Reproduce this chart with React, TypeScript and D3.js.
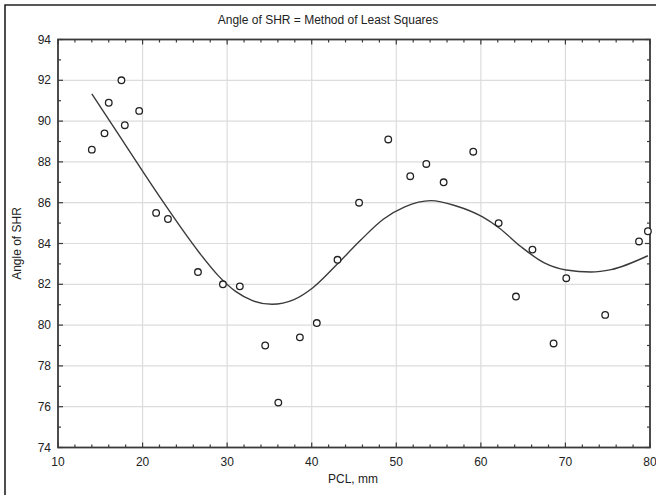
import React from "react";
import * as d3 from "d3";

const ptX = [14.0, 15.5, 16.0, 17.5, 17.9, 19.6, 21.6, 23.0, 26.55, 29.5, 31.5, 34.5, 36.05, 38.6, 40.6, 43.05, 45.6, 49.05, 51.65, 53.55, 55.6, 59.1, 62.1, 64.15, 66.1, 68.6, 70.1, 74.7, 78.7, 79.75];
const ptY = [88.6, 89.4, 90.9, 92.0, 89.8, 90.5, 85.5, 85.2, 82.6, 82.0, 81.9, 79.0, 76.2, 79.4, 80.1, 83.2, 86.0, 89.1, 87.3, 87.9, 87.0, 88.5, 85.0, 81.4, 83.7, 79.1, 82.3, 80.5, 84.1, 84.6];

const fitX = [14.0, 17.0, 20.0, 22.5, 24.5, 26.8, 29.0, 31.0, 33.0, 35.3, 37.9, 40.1, 43.0, 45.8, 48.5, 51.0, 54.1, 57.0, 60.2, 62.2, 64.75, 67.5, 70.1, 73.0, 75.4, 79.75];
const fitY = [91.33, 89.45, 87.55, 86.0, 84.8, 83.5, 82.4, 81.65, 81.2, 81.02, 81.25, 81.82, 82.98, 84.17, 85.2, 85.8, 86.1, 85.85, 85.3, 84.75, 83.84, 83.05, 82.7, 82.6, 82.72, 83.4];

const xTicks = [10, 20, 30, 40, 50, 60, 70, 80];
const yTicks = [74, 76, 78, 80, 82, 84, 86, 88, 90, 92, 94];

const title = "Angle of SHR = Method of Least Squares";
const xLabel = "PCL, mm";
const yLabel = "Angle of SHR";

export default function App() {
  const W = 656, H = 495;
  const L = 58, R = 650, T = 39.5, B = 447.5;
  const x = d3.scaleLinear().domain([10, 80]).range([L, R]);
  const y = d3.scaleLinear().domain([74, 94]).range([B, T]);
  const xMinor = d3.range(10, 80.001, 2);
  const yMinor = d3.range(74, 94.001, 1);
  const line = d3
    .line<number>()
    .x((_, i) => x(fitX[i]))
    .y((d) => y(d))
    .curve(d3.curveMonotoneX);
  const font = "'Liberation Sans', Arial, sans-serif";
  const axisCol = "#3a3a3a";
  return (
    <svg
      width={W}
      height={H}
      style={{ position: "absolute", left: 0, top: 0, background: "#fff" }}
      fontFamily={font}
    >
      <rect x={0} y={0} width={W} height={H} fill="#fff" />
      <path d={`M5,${H + 5} V5 H${W + 5}`} fill="none" stroke="#222" strokeWidth={1.6} />
      <text x={328} y={24} textAnchor="middle" fontSize={12} fill="#222">
        {title}
      </text>
      {xTicks.slice(1, -1).map((t) => (
        <line key={"gx" + t} x1={x(t)} x2={x(t)} y1={T} y2={B} stroke="#dcdcdc" strokeWidth={1.2} />
      ))}
      {yTicks.slice(1, -1).map((t) => (
        <line key={"gy" + t} x1={L} x2={R} y1={y(t)} y2={y(t)} stroke="#dcdcdc" strokeWidth={1.2} />
      ))}
      {xMinor.map((t) => {
        const major = Math.abs(t % 10) < 1e-6;
        const len = major ? 5 : 3;
        return (
          <g key={"tx" + t}>
            <line x1={x(t)} x2={x(t)} y1={B} y2={B - len} stroke={axisCol} strokeWidth={1.2} />
            <line x1={x(t)} x2={x(t)} y1={T} y2={T + len} stroke={axisCol} strokeWidth={1.2} />
          </g>
        );
      })}
      {yMinor.map((t) => {
        const major = Math.abs(t % 2) < 1e-6;
        const len = major ? 5 : 3;
        return (
          <g key={"ty" + t}>
            <line x1={L} x2={L + len} y1={y(t)} y2={y(t)} stroke={axisCol} strokeWidth={1.2} />
            <line x1={R} x2={R - len} y1={y(t)} y2={y(t)} stroke={axisCol} strokeWidth={1.2} />
          </g>
        );
      })}
      <rect x={L} y={T} width={R - L} height={B - T} fill="none" stroke={axisCol} strokeWidth={1.8} />
      {xTicks.map((t) => (
        <text key={"lx" + t} x={x(t)} y={466} textAnchor="middle" fontSize={12} fill="#222">
          {t}
        </text>
      ))}
      {yTicks.map((t) => (
        <text key={"ly" + t} x={51} y={y(t) + 4} textAnchor="end" fontSize={12} fill="#222">
          {t}
        </text>
      ))}
      <text x={353} y={483} textAnchor="middle" fontSize={12} fill="#222">
        {xLabel}
      </text>
      <text
        transform={`translate(21,${(T + B) / 2}) rotate(-90)`}
        textAnchor="middle"
        fontSize={12}
        fill="#222"
      >
        {yLabel}
      </text>
      <path d={line(fitY) || ""} fill="none" stroke="#3a3a3a" strokeWidth={1.4} />
      {ptX.map((v, i) => (
        <circle key={"p" + i} cx={x(v)} cy={y(ptY[i])} r={3.3} fill="#fff" stroke="#222" strokeWidth={1.3} />
      ))}
    </svg>
  );
}
